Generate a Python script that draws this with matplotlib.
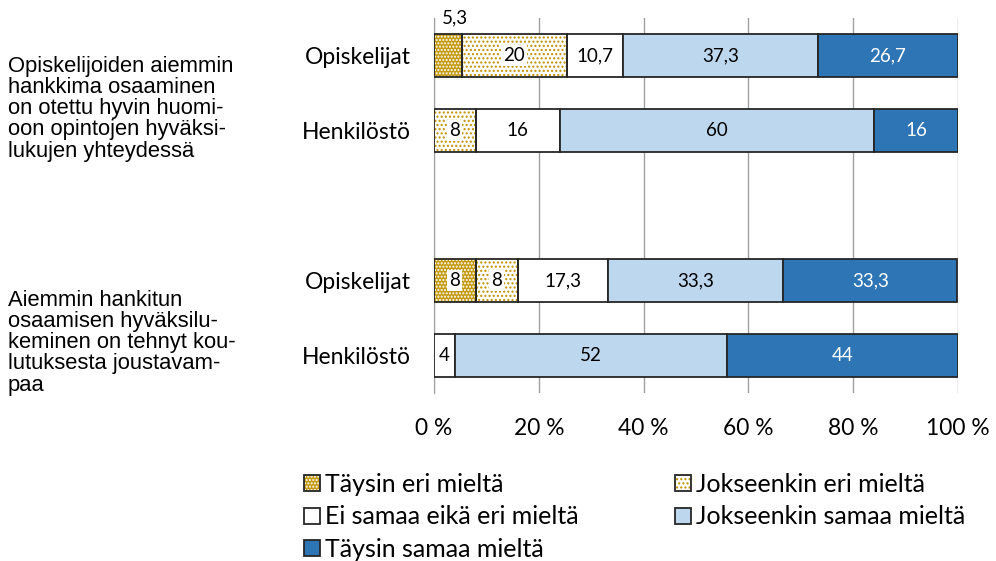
import numpy as np
import matplotlib.pyplot as plt
from matplotlib.patches import Patch

# ── Data ──────────────────────────────────────────────────────────────────────
rows = ['Opiskelijat', 'Henkilöstö', '', 'Opiskelijat', 'Henkilöstö']
taysin_eri      = [5.3, 0, None, 8, 0]
jokseenkin_eri  = [20, 8, None, 8, 0]
ei_samaa_eika   = [10.7, 16, None, 17.3, 4]
jokseenkin_samaa = [37.3, 60, None, 33.3, 52]
taysin_samaa    = [26.7, 16, None, 33.3, 44]

series_names = ['Täysin eri mieltä', 'Jokseenkin eri mieltä', 'Ei samaa eikä eri mieltä',
                'Jokseenkin samaa mieltä', 'Täysin samaa mieltä']
groups = ['Opiskelijoiden aiemmin\nhankkima osaaminen\non otettu hyvin huomi-\noon opintojen hyväksi-\nlukujen yhteydessä',
          'Aiemmin hankitun\nosaamisen hyväksilu-\nkeminen on tehnyt kou-\nlutuksesta joustavam-\npaa']
xticks = [0, 20, 40, 60, 80, 100]

# ── Style ─────────────────────────────────────────────────────────────────────
gold = '#BF9000'
edge = '#262626'
styles = [
    dict(face='#C49A12', hatch='.....', hcol='white'),
    dict(face='white', hatch='....', hcol=gold),
    dict(face='white', hatch=None, hcol=None),
    dict(face='#BDD7EE', hatch=None, hcol=None),
    dict(face='#2E75B6', hatch=None, hcol=None),
]
txtcol = ['black', 'black', 'black', 'black', 'white']

plt.rcParams['font.family'] = ['Lato', 'DejaVu Sans']
plt.rcParams['hatch.linewidth'] = 1.0

fig = plt.figure(figsize=(9.96, 5.61), dpi=100)
ax = fig.add_axes([434/996, 1-393/561, (958-434)/996, (393-18)/561])

series = [taysin_eri, jokseenkin_eri, ei_samaa_eika, jokseenkin_samaa, taysin_samaa]
ypos = np.arange(len(rows))
h = 0.57

for r in range(len(rows)):
    if series[0][r] is None:
        continue
    left = 0
    for s, vals in enumerate(series):
        v = vals[r]
        if v == 0:
            continue
        st = styles[s]
        if st['hatch']:
            ax.barh(ypos[r], v, left=left, height=h, color=st['face'],
                    edgecolor=st['hcol'], hatch=st['hatch'], linewidth=0, zorder=3)
            ax.barh(ypos[r], v, left=left, height=h, fill=False,
                    edgecolor=edge, linewidth=1.3, zorder=4)
        else:
            ax.barh(ypos[r], v, left=left, height=h, color=st['face'],
                    edgecolor=edge, linewidth=1.3, zorder=3)
        lab = f'{v:g}'.replace('.', ',')
        if r == 0 and s == 0:
            ax.text(left + v / 2 + 1.3, ypos[r] - h / 2 - 0.1, lab, ha='center', va='bottom',
                    fontsize=13.5, color='black', zorder=5)
        else:
            ax.text(left + v / 2, ypos[r], lab, ha='center', va='center',
                    fontsize=13.5, color=txtcol[s], zorder=5,
                    bbox=dict(facecolor='white', edgecolor='none', pad=1.5) if styles[s]['hatch'] else None)
        left += v

ax.set_xlim(0, 100)
ax.set_ylim(len(rows) - 0.5, -0.5)
ax.set_xticks(xticks)
ax.set_xticklabels([f'{t} %' for t in xticks], fontsize=16.4)
ax.set_yticks(ypos)
ax.set_yticklabels(rows, fontsize=16.5)
ax.tick_params(axis='y', length=0, pad=17)
ax.tick_params(axis='x', length=0, pad=18)
ax.grid(axis='x', color='#A0A0A0', linewidth=1, zorder=0)
for sp in ['top', 'right', 'bottom']:
    ax.spines[sp].set_visible(False)
ax.spines['left'].set_color('#A0A0A0')

fig.text(8/996, 1-56/561, groups[0], ha='left', va='top', fontsize=15.8,
         family='Liberation Sans', linespacing=1.01)
fig.text(8/996, 1-290/561, groups[1], ha='left', va='top', fontsize=15.8,
         family='Liberation Sans', linespacing=1.01)

handles = []
for st in styles:
    if st['hatch']:
        handles.append((Patch(facecolor=st['face'], edgecolor=st['hcol'], hatch=st['hatch'], linewidth=0),
                        Patch(fill=False, edgecolor=edge, linewidth=1.3)))
    else:
        handles.append(Patch(facecolor=st['face'], edgecolor=edge, linewidth=1.3))

leg_kw = dict(loc='upper left', frameon=False, fontsize=18, handlelength=0.62,
              handleheight=0.62, handletextpad=0.2, labelspacing=0.38,
              borderaxespad=0, borderpad=0)
col1 = [0, 2, 4]
col2 = [1, 3]
fig.legend([handles[i] for i in col1], [series_names[i] for i in col1],
           bbox_to_anchor=(304/996, 1-473/561), **leg_kw)
fig.legend([handles[i] for i in col2], [series_names[i] for i in col2],
           bbox_to_anchor=(675/996, 1-473/561), **leg_kw)

fig.savefig('out.png', dpi=100)
